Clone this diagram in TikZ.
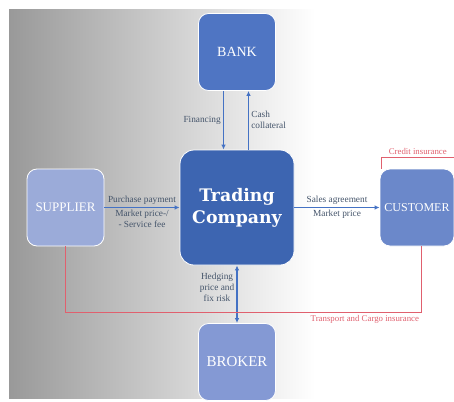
\documentclass[tikz,border=0pt]{standalone}
\usepackage{fontspec}
\setmainfont{Liberation Serif}
\newfontfamily\slabfont{DejaVu Serif}
\usetikzlibrary{arrows.meta,positioning}

\definecolor{tradeblue}{HTML}{3D65B1}
\definecolor{bankblue}{HTML}{4F75C3}
\definecolor{supplierblue}{HTML}{9BABD9}
\definecolor{customerblue}{HTML}{6B88CA}
\definecolor{brokerblue}{HTML}{8499D4}
\definecolor{flowblue}{HTML}{4472C4}
\definecolor{lbltext}{HTML}{44546A}
\definecolor{insred}{HTML}{E0606E}

\begin{document}
\begin{tikzpicture}[x=1pt, y=-1pt,
    party/.style={draw=white, line width=0.8pt, rounded corners=10pt, minimum width=77pt, minimum height=77pt, text=white, align=center},
    flow/.style={draw=flowblue, line width=1.6pt, >={Latex[length=5pt,width=4.5pt]}, ->},
    lbl/.style={text=lbltext, font=\fontsize{9.3}{11}\selectfont, inner sep=2pt},
    ins/.style={draw=insred, line width=1pt},
    inslbl/.style={text=insred, font=\fontsize{8.8}{10}\selectfont, inner sep=2pt}]
    % Background
    \useasboundingbox (0,0) rectangle (454,401);
    \shade[left color=black!40, right color=white] (9,10) rectangle (315,398);
    % Nodes
    \node [party, fill=tradeblue, minimum width=114pt, minimum height=115pt, rounded corners=14pt, font=\slabfont\bfseries\fontsize{17.3}{22}\selectfont] (trade) at (237,207.5) {Trading\\Company};
    \node [party, fill=bankblue, above of=trade, node distance=155.5pt, font=\fontsize{14}{16}\selectfont] (bank) {BANK};
    \node [party, fill=supplierblue, left of=trade, node distance=171.5pt, font=\fontsize{13}{15}\selectfont] (supplier) {SUPPLIER};
    \node [party, fill=customerblue, right of=trade, node distance=180pt, minimum width=74pt, font=\fontsize{12}{14}\selectfont] (customer) {CUSTOMER};
    \node [party, fill=brokerblue, below of=trade, node distance=154.5pt, font=\fontsize{15}{17}\selectfont] (broker) {BROKER};
    % Arrows
    \draw[flow] ([xshift=-13.5pt]bank.south) -- node [lbl, left] {Financing} ([xshift=-13.5pt]trade.north);
    \draw[flow] ([xshift=11.5pt]trade.north) -- node [lbl, right, align=left] {Cash\\collateral} ([xshift=11.5pt]bank.south);
    \draw[flow] (supplier) -- node [lbl, above] {Purchase payment} node [lbl, below, align=center] {Market price-/\\- Service fee} (trade);
    \draw[flow] (trade) -- node [lbl, above] {Sales agreement} node [lbl, below] {Market price} (customer);
    \draw[flow, <->] (trade) -- node [lbl, left, align=center, pos=0.38] {Hedging\\price and\\fix risk} (broker);
    % Insurance
    \draw[ins] (supplier.south) -- ++(0,66) -| node [pos=0.5, inslbl, anchor=north east] {Transport and Cargo insurance} ([xshift=4.5pt]customer.south);
    \coordinate (credit end) at (454,157);
    \draw[ins] ([xshift=2pt]customer.north west) |- node [pos=0.75, inslbl, above] {Credit insurance} (credit end);
\end{tikzpicture}
\end{document}
